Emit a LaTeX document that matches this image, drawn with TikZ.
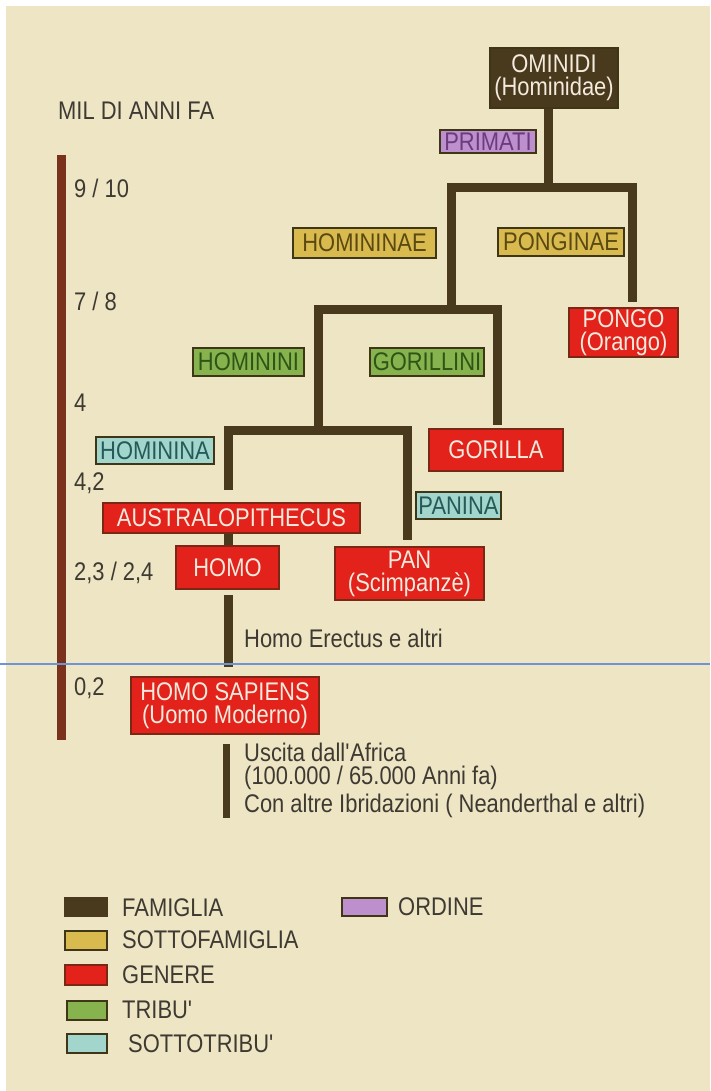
\documentclass[tikz,border=0pt]{standalone}
\usepackage{fontspec}
\setmainfont{Liberation Sans}[FakeStretch=0.86]
\definecolor{paper}{HTML}{EEE5C5}
\definecolor{bark}{HTML}{4A3A1D}
\definecolor{rust}{HTML}{7A321D}
\definecolor{ink}{HTML}{3E3A32}
\definecolor{edge}{HTML}{3F3517}
\definecolor{blood}{HTML}{E3221B}
\definecolor{bloodedge}{HTML}{7A2816}
\definecolor{straw}{HTML}{D9BA4E}
\definecolor{strawink}{HTML}{5A4912}
\definecolor{moss}{HTML}{86B34E}
\definecolor{mossink}{HTML}{2F5516}
\definecolor{mint}{HTML}{A2D6CC}
\definecolor{mintink}{HTML}{245A58}
\definecolor{lilac}{HTML}{BD8FCD}
\definecolor{lilacink}{HTML}{6B3B7E}
\definecolor{cream}{HTML}{F3EBDD}
\definecolor{rule}{HTML}{6E93D6}
\newcommand\taxfont{\fontsize{25.5}{23}\selectfont}

\begin{document}
\begin{tikzpicture}[x=1pt, y=-1pt,
    stem/.style={bark, line width=9pt},
    taxon/.style={draw=edge, line width=1.6pt, inner sep=0pt, align=center, font=\taxfont},
    famiglia/.style={taxon, fill=bark, text=cream},
    ordine/.style={taxon, fill=lilac, text=lilacink},
    sottofam/.style={taxon, fill=straw, text=strawink},
    genere/.style={taxon, draw=bloodedge, fill=blood, text=cream},
    tribu/.style={taxon, fill=moss, text=mossink},
    sottotribu/.style={taxon, fill=mint, text=mintink},
    plain/.style={anchor=west, inner sep=0pt, text=ink, font=\taxfont}]
        \useasboundingbox (0,0) rectangle (710,1091);
        \fill[white] (0,0) rectangle (710,1091);
        \fill[paper] (6,6) rectangle (710,1091);

        % time scale
        \node[plain] (title) at (58,111) {MIL DI ANNI FA};
        \fill[rust] (57,155) rectangle (66,740);
        \node[plain] (y1) at (74,188) {9 / 10};
        \node[plain] (y2) at (74,301) {7 / 8};
        \node[plain] (y3) at (74,403) {4};
        \node[plain] (y4) at (74,483) {4,2};
        \node[plain] (y5) at (74,573) {2,3 / 2,4};
        \node[plain] (y6) at (74,688) {0,2};

        % taxa
        \node[famiglia, minimum width=128pt, minimum height=60pt] (ominidi) at (554,78) {OMINIDI\\(Hominidae)};
        \node[ordine, minimum width=96pt, minimum height=23pt] (primati) at (488,141.5) {PRIMATI};
        \node[sottofam, minimum width=143pt, minimum height=30pt] (homininae) at (364.5,243) {HOMININAE};
        \node[sottofam, minimum width=126pt, minimum height=28pt] (ponginae) at (561,242) {PONGINAE};
        \node[genere, minimum width=109pt, minimum height=49pt] (pongo) at (623.5,332.5) {PONGO\\(Orango)};
        \node[tribu, minimum width=111pt, minimum height=28pt] (hominini) at (248.5,362) {HOMININI};
        \node[tribu, minimum width=114pt, minimum height=28pt] (gorillini) at (427,362) {GORILLINI};
        \node[genere, minimum width=134pt, minimum height=42pt] (gorilla) at (496,450) {GORILLA};
        \node[sottotribu, minimum width=118pt, minimum height=27pt] (hominina) at (155,450.5) {HOMININA};
        \node[sottotribu, minimum width=85pt, minimum height=27pt] (panina) at (458.5,505.5) {PANINA};
        \node[genere, minimum width=257pt, minimum height=30pt] (australo) at (231.5,518) {AUSTRALOPITHECUS};
        \node[genere, minimum width=103pt, minimum height=43pt] (homo) at (227.5,567.5) {HOMO};
        \node[genere, minimum width=149pt, minimum height=53pt] (pan) at (409.5,573.5) {PAN\\(Scimpanzè)};
        \node[genere, minimum width=188pt, minimum height=57pt] (sapiens) at (225,705.5) {HOMO SAPIENS\\(Uomo Moderno)};

        % branches
        \coordinate (f1) at (548,188);
        \coordinate (f2) at (451,309);
        \coordinate (f3) at (318,430);
        \coordinate (d1) at (632,302);
        \coordinate (d2) at (497,425);
        \coordinate (d3) at (228,490);
        \coordinate (d4) at (407,540);
        \coordinate (tail) at (226,818);
        \draw[stem] (ominidi.south -| f1) -- (f1);
        \draw[stem, line join=miter] (f2) |- (f1) -| (d1);
        \draw[stem, line join=miter] (f3) |- (f2) -| (d2);
        \draw[stem, line join=miter] (d3) |- (f3) -| (d4);
        \draw[stem] (australo.south -| d3) -- (homo.north -| d3);
        \draw[stem] ([yshift=-5pt]homo.south -| d3) -- ([yshift=9pt]sapiens.north -| d3);
        \draw[stem, line width=7pt] ([yshift=-9pt]sapiens.south -| tail) -- (tail);

        \node[plain] (erectus) at (244,638) {Homo Erectus e altri};
        \node[plain] (uscita) at (244,752) {Uscita dall\textquotesingle Africa};
        \node[plain] (anni) at (244,778) {(100.000 / 65.000 Anni fa)};
        \node[plain] (ibridi) at (244,806) {Con altre Ibridazioni ( Neanderthal e altri)};

        \draw[rule, line width=1.2pt] (0,664) -- (710,664);

        % legend
        \fill[bark] (64,897) rectangle (108,917);
        \node[plain] (lfam) at (122,908) {FAMIGLIA};
        \draw[edge, line width=2pt, fill=straw] (65,931) rectangle (107,950);
        \node[plain] (lsub) at (122,940) {SOTTOFAMIGLIA};
        \draw[bloodedge, line width=2pt, fill=blood] (65,965) rectangle (107,985);
        \node[plain] (lgen) at (122,975) {GENERE};
        \draw[edge, line width=2pt, fill=moss] (67,1001) rectangle (107,1020);
        \node[plain] (ltri) at (122,1010) {TRIBU\textquotesingle};
        \draw[edge, line width=2pt, fill=mint] (67,1034) rectangle (107,1053);
        \node[plain] (lsot) at (128,1044) {SOTTOTRIBU\textquotesingle};
        \draw[edge, line width=2pt, fill=lilac] (342,898) rectangle (387,916);
        \node[plain] (lord) at (398,907) {ORDINE};
      \end{tikzpicture}
\end{document}
